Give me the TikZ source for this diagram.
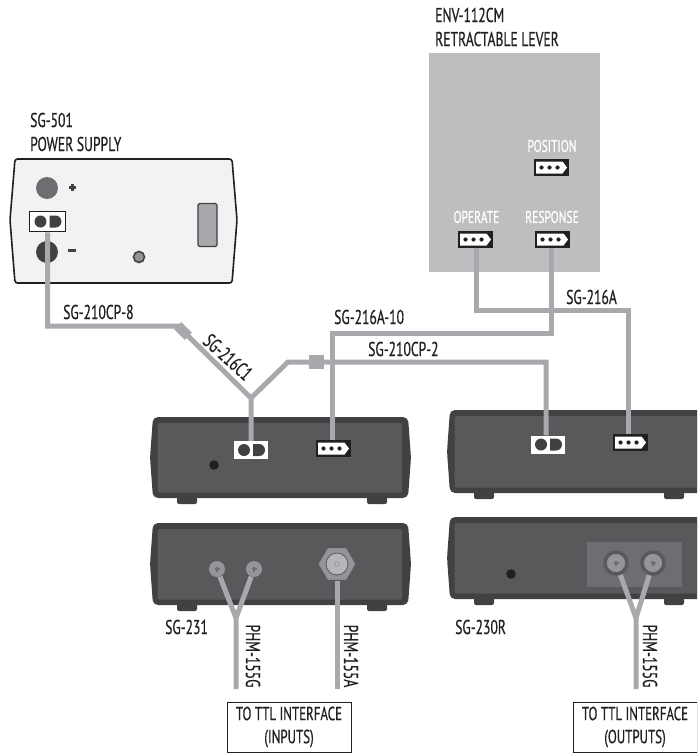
\documentclass[tikz,border=0pt]{standalone}
\usepackage{fontspec}
\setmainfont[FakeStretch=0.68,FakeBold=0.6]{PT Sans}
\usetikzlibrary{shapes.geometric}
\definecolor{sgblack}{RGB}{35,31,32}
\definecolor{sgdark}{RGB}{65,64,66}
\definecolor{sgpanel}{RGB}{88,89,91}
\definecolor{sgplate}{RGB}{109,110,113}
\definecolor{sgscrew}{RGB}{147,149,152}
\definecolor{sgcable}{RGB}{167,169,172}
\definecolor{sglever}{RGB}{188,190,192}
\definecolor{sgsupply}{RGB}{241,242,242}
\tikzset{
  cable/.style={line width=5pt, sgcable, line join=miter},
  lbl/.style={inner sep=0pt, text=sgblack, font=\fontsize{20}{24}\selectfont, align=left},
  whitelbl/.style={inner sep=0pt, text=white, font=\fontsize{17}{18}\selectfont},
  pinport/.style={fill=sgblack, inner sep=0pt, minimum width=35pt, minimum height=17pt},
  odport/.style={fill=white, inner sep=0pt, minimum width=34pt, minimum height=18pt},
  screw/.style={circle, fill=sgscrew, inner sep=0pt, minimum size=16pt},
  plug/.style={fill=sgcable, inner sep=0pt, minimum width=15pt, minimum height=10pt},
  ttlbox/.style={draw=sgblack, line width=1pt, fill=white, inner sep=0pt, minimum width=124pt, minimum height=50pt, align=center, font=\fontsize{19}{23}\selectfont, text=sgblack},
}
\begin{document}
\begin{tikzpicture}[x=1pt, y=-1pt]
  \clip (0,0) rectangle (697,755);

  % power supply
  \filldraw[sgsupply, draw=sgblack, line width=1.6pt, rounded corners=2.5pt]
    (15,159) -- (232,159) -- (237,220) -- (232,283) -- (15,283) -- (10,220) -- cycle;
  \fill[sgplate] (47,188) circle (11pt);
  \fill[sgdark] (47,252) circle (11pt);
  \fill[sgdark] (69,186) rectangle (76,188.5);
  \fill[sgdark] (71.3,183.7) rectangle (73.7,190.8);
  \fill[sgdark] (68,249) rectangle (76,251.5);
  \filldraw[sgscrew, draw=sgdark, line width=1.6pt] (139,257) circle (5.5pt);
  \filldraw[sgcable, draw=sgdark, line width=1.4pt, rounded corners=1.5pt] (198,203.5) rectangle (217,246.5);

  % lever panel
  \fill[sglever] (429,53) rectangle (600,272);
  \node[whitelbl] (poslbl) at (552,146) {POSITION};
  \node[whitelbl] (oplbl) at (476.5,217) {OPERATE};
  \node[whitelbl] (resplbl) at (552,217) {RESPONSE};

  % the four boxes
  \foreach \nm/\lx/\ty/\by in {one/150/417/498, two/447/410/493, three/150/523/605, four/447/517/599} {
    \fill[sgdark, rounded corners=2pt] (\lx+27,\by-2) rectangle (\lx+47,\by+6);
    \fill[sgdark, rounded corners=2pt] (\lx+217,\by-2) rectangle (\lx+237,\by+6);
    \fill[sgdark, rounded corners=5pt]
      (\lx+3,\ty) -- (\lx+258,\ty) -- (\lx+261,{(\ty+\by)/2}) -- (\lx+258,\by) -- (\lx+3,\by) -- (\lx,{(\ty+\by)/2}) -- cycle;
    \fill[sgpanel, rounded corners=1.5pt] (\lx+7.5,\ty+6) rectangle (\lx+252,\by-5.5);
  }
  \fill[sgblack] (214,465) circle (4.8pt);
  \fill[sgblack] (511,574) circle (4.8pt);
  \fill[sgplate] (587,542) rectangle (682,587);

  % ports
  \foreach \nm/\x/\y in {pos/551.5/167.5, op/475.5/239.5, resp/552.5/239.5, pinone/333.5/448.5, pintwo/630.5/442.5} {
    \node[pinport] (\nm) at (\x,\y) {};
    \fill[white] (\x-15.5,\y-6) -- (\x+11,\y-6) -- (\x+15.5,\y) -- (\x+11,\y+6) -- (\x-15.5,\y+6) -- cycle;
    \foreach \d in {-10,-2,6} {
      \fill[sgblack] (\x+\d,\y) circle (2.1pt);
    }
  }
  \node[odport, draw=sgblack, line width=1.6pt, minimum width=36pt, minimum height=20pt] (odsupply) at (47.5,221.5) {};
  \node[odport] (odone) at (251,450) {};
  \node[odport] (odtwo) at (548,444.5) {};
  \foreach \x/\y in {47.5/221.5, 251/450, 548/444.5} {
    \fill[sgdark] (\x-7,\y) circle (6pt);
    \fill[sgdark] (\x+2,\y-6) -- (\x+8,\y-6) arc (90:-90:6pt) -- (\x+2,\y+6) -- cycle;
  }

  % inputs and outputs
  \node[screw] (scra) at (217,569) {};
  \node[screw] (scrb) at (254,569) {};
  \node[regular polygon, regular polygon sides=6, fill=sgscrew, draw=sgpanel, line width=1pt, inner sep=0pt, minimum size=38pt] (nut) at (337,564) {};
  \filldraw[sglever!80!sgscrew, draw=sgpanel, line width=0.8pt] (337,564) circle (11pt);
  \draw[sgscrew, line width=0.7pt] (337,564) circle (2.3pt);
  \node[screw, draw=sgpanel, line width=3.5pt, minimum size=22pt] (scrc) at (616,563) {};
  \node[screw, draw=sgpanel, line width=3.5pt, minimum size=22pt] (scrd) at (653,563) {};
  \foreach \s in {scra,scrb,scrc,scrd} {
    \draw[sgplate, line width=1.2pt] ([xshift=-2.5pt]\s.center) -- ([xshift=2.5pt]\s.center);
    \draw[sgplate, line width=1.2pt] ([yshift=-2.5pt]\s.center) -- ([yshift=2.5pt]\s.center);
  }

  % cables
  \node[plug, rotate=-45] (plugdiag) at (183,331) {};
  \node[plug, minimum width=15pt, minimum height=14pt] (plugflat) at (316,362) {};
  \coordinate (bendsupply) at (47.5,326);
  \coordinate (bendcp) at (178,326);
  \coordinate (ysplit) at (251,398);
  \coordinate (bendfork) at (288,362);
  \coordinate (bendtwo) at (546,362);
  \coordinate (bendten) at (332,333);
  \coordinate (bendresp) at (551,333);
  \coordinate (bendop) at (476,310);
  \coordinate (bendrun) at (628,310);
  \coordinate (yinput) at (236,618);
  \coordinate (youtput) at (636,618);
  \coordinate (endinput) at (236,689);
  \coordinate (endnut) at (337,689);
  \coordinate (endoutput) at (636,689);
  \draw[cable] (odsupply.south) -- (bendsupply) -- (bendcp) -- (plugdiag.center);
  \draw[cable] (plugdiag.center) -- (ysplit) -- (odone.north);
  \draw[cable] (ysplit) -- (bendfork) -- (plugflat.center) -- (bendtwo) -- (bendtwo |- odtwo.north);
  \draw[cable] (bendten |- pinone.north) -- (bendten) -- (bendresp) -- (bendresp |- resp.south);
  \draw[cable] (bendop |- op.south) -- (bendop) -- (bendrun) -- (bendrun |- pintwo.north);
  \draw[cable] (scra) -- (yinput);
  \draw[cable] (scrb) -- (yinput) -- (endinput);
  \draw[cable] (nut) -- (endnut);
  \draw[cable] (scrc) -- (youtput);
  \draw[cable] (scrd) -- (youtput) -- (endoutput);

  % labels
  \node[lbl, anchor=west] (envlbl) at (435,27) {ENV-112CM\\RETRACTABLE LEVER};
  \node[lbl, anchor=west] (supplylbl) at (30,132) {SG-501\\POWER SUPPLY};
  \node[lbl, anchor=west] (cpeight) at (63,312) {SG-210CP-8};
  \node[lbl, rotate=-42] (cone) at (228,357) {SG-216C1};
  \node[lbl, anchor=west] (aten) at (334,317) {SG-216A-10};
  \node[lbl, anchor=west] (cptwo) at (368,349) {SG-210CP-2};
  \node[lbl, anchor=west] (arun) at (566,297) {SG-216A};
  \node[lbl, anchor=west] (sgone) at (165,627) {SG-231};
  \node[lbl, anchor=west] (sgtwo) at (455,627) {SG-230R};
  \node[lbl, rotate=-90] (phma) at (253,656) {PHM-155G};
  \node[lbl, rotate=-90] (phmb) at (351,656) {PHM-155A};
  \node[lbl, rotate=-90] (phmc) at (650,656) {PHM-155G};
  \node[ttlbox] (inputs) at (289,727) {TO TTL INTERFACE\\(INPUTS)};
  \node[ttlbox] (outputs) at (635,727) {TO TTL INTERFACE\\(OUTPUTS)};
\end{tikzpicture}
\end{document}
